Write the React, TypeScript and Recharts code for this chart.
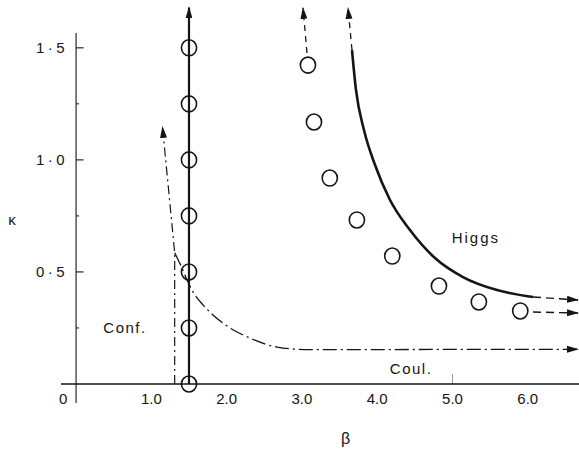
import React from 'react';
import { ComposedChart, Line, Scatter, XAxis, YAxis, ReferenceLine, ReferenceDot } from 'recharts';

// ---- axis ticks ----
const betaTicks = [0, 1, 2, 3, 4, 5, 6];
const betaTickLabels = ['0', '1.0', '2.0', '3.0', '4.0', '5.0', '6.0'];
const kappaTicks = [0.5, 1.0, 1.5];
const kappaTickLabels = ['0·5', '1·0', '1·5'];
const kappaMinorTicks = [0.25, 0.75, 1.25];

// ---- vertical transition line (beta = 1.5) with measured points ----
const verticalBeta = 1.5;
const verticalKappas = [0, 0.25, 0.5, 0.75, 1.0, 1.25, 1.5];
const verticalTopKappa = 1.68;

// ---- open circles of the Higgs-side transition ----
const circleBeta = [3.08, 3.16, 3.37, 3.73, 4.2, 4.82, 5.35, 5.9];
const circleKappa = [1.423, 1.169, 0.919, 0.732, 0.571, 0.437, 0.366, 0.326];
const circleUpBeta = [3.067, 3.014];
const circleUpKappa = [1.477, 1.678];
const circleRightBeta = [6.069, 6.667];
const circleRightKappa = [0.321, 0.317];

// ---- Higgs solid curve ----
const higgsBeta = [3.665, 3.718, 3.824, 3.971, 4.17, 4.435, 4.767, 5.139, 5.591, 6.069];
const higgsKappa = [1.49, 1.312, 1.133, 0.977, 0.821, 0.687, 0.562, 0.477, 0.419, 0.388];
const higgsUpBeta = [3.665, 3.612];
const higgsUpKappa = [1.49, 1.678];
const higgsRightBeta = [6.069, 6.667];
const higgsRightKappa = [0.388, 0.375];

// ---- confinement / Coulomb (dash-dot) ----
const confCoulBeta = [1.31, 1.394, 1.474, 1.54, 1.686, 1.819, 2.045, 2.31, 2.669, 3.107, 4.5, 6.667];
const confCoulKappa = [0.585, 0.527, 0.464, 0.419, 0.353, 0.308, 0.25, 0.205, 0.165, 0.153, 0.154, 0.155];
const confHiggsBeta = [1.31, 1.31, 1.148];
const confHiggsKappa = [0, 0.585, 1.147];

const zip = (bs: number[], ks: number[]) => bs.map((b, i) => ({ b, k: ks[i] }));

const verticalCircles = verticalKappas.map((k) => ({ b: verticalBeta, k }));
const verticalLine = [
  { b: verticalBeta, k: 0 },
  { b: verticalBeta, k: verticalTopKappa },
];
const circles = zip(circleBeta, circleKappa);
const circleUp = zip(circleUpBeta, circleUpKappa);
const circleRight = zip(circleRightBeta, circleRightKappa);
const higgs = zip(higgsBeta, higgsKappa);
const higgsUp = zip(higgsUpBeta, higgsUpKappa);
const higgsRight = zip(higgsRightBeta, higgsRightKappa);
const confCoul = zip(confCoulBeta, confCoulKappa);
const confHiggs = zip(confHiggsBeta, confHiggsKappa);

const INK = '#151515';
const FONT = 'Liberation Sans, Arial, sans-serif';

const XTick = (props: any) => {
  const { x, y, payload } = props;
  const idx = betaTicks.indexOf(payload.value);
  const label = betaTickLabels[idx] ?? String(payload.value);
  const shift = payload.value === 0 ? -13 : 0;
  return (
    <text
      x={x + shift}
      y={y + 20}
      textAnchor="middle"
      fill={INK}
      fontSize={15}
      fontFamily={FONT}
    >
      {label}
    </text>
  );
};

const YTick = (props: any) => {
  const { x, y, payload } = props;
  const idx = kappaTicks.indexOf(payload.value);
  const label = kappaTickLabels[idx] ?? String(payload.value);
  return (
    <text
      x={x - 9}
      y={y + 5}
      textAnchor="middle"
      fill={INK}
      fontSize={15}
      fontFamily={FONT}
      letterSpacing={3.5}
    >
      {label}
    </text>
  );
};

const OpenCircle = (props: any) => {
  const { cx, cy } = props;
  return <ellipse cx={cx} cy={cy} rx={7.6} ry={8} fill="none" stroke={INK} strokeWidth={1.6} />;
};

const textLabel = (value: string, size = 15, spacing = 1.5) => ({
  value,
  position: 'center' as const,
  fill: INK,
  fontSize: size,
  fontFamily: FONT,
  letterSpacing: spacing,
});

export default function App() {
  return (
    <div style={{ position: 'absolute', left: 0, top: 0, width: 579, height: 451, background: '#fff' }}>
      <svg width={0} height={0} style={{ position: 'absolute' }}>
        <defs>
          <marker
            id="arrowHead"
            viewBox="0 0 12 7"
            refX={11}
            refY={3.5}
            markerWidth={12}
            markerHeight={7}
            markerUnits="userSpaceOnUse"
            orient="auto"
          >
            <path d="M0,0 L12,3.5 L0,7 z" fill={INK} />
          </marker>
        </defs>
      </svg>
      <ComposedChart width={579} height={451} margin={{ top: 3, right: 0, bottom: 0, left: 0 }}>
        <XAxis
          dataKey="b"
          type="number"
          domain={[-0.2, 6.68]}
          ticks={betaTicks}
          interval={0}
          height={67}
          axisLine={{ stroke: INK, strokeWidth: 1.3 }}
          tickLine={false}
          tickSize={0}
          tickMargin={0}
          tick={<XTick />}
        />
        <YAxis
          dataKey="k"
          type="number"
          domain={[0, 1.7]}
          ticks={kappaTicks}
          interval={0}
          width={61}
          axisLine={false}
          tickLine={false}
          tickSize={0}
          tickMargin={0}
          tick={<YTick />}
        />

        {/* vertical axis line at beta = 0 */}
        <ReferenceLine
          segment={[{ x: 0, y: -0.085 }, { x: 0, y: 1.566 }]}
          stroke={INK}
          strokeWidth={1.1}
          ifOverflow="visible"
        />
        {kappaTicks.map((k) => (
          <ReferenceLine
            key={'maj' + k}
            segment={[{ x: 0, y: k }, { x: 0.1, y: k }]}
            stroke={INK}
            strokeWidth={1.1}
            ifOverflow="visible"
          />
        ))}
        {kappaMinorTicks.map((k) => (
          <ReferenceLine
            key={'min' + k}
            segment={[{ x: 0, y: k }, { x: 0.04, y: k }]}
            stroke={INK}
            strokeWidth={1}
            ifOverflow="visible"
          />
        ))}
        <ReferenceLine
          segment={[{ x: 5, y: 0 }, { x: 5, y: 0.045 }]}
          stroke="#999"
          strokeWidth={1}
          ifOverflow="visible"
        />

        {/* confinement-Higgs boundary (dash-dot, with arrow) */}
        <Line
          data={confHiggs}
          dataKey="k"
          type="linear"
          stroke={INK}
          strokeWidth={1.2}
          strokeDasharray="9 4 2 4"
          dot={false}
          activeDot={false}
          isAnimationActive={false}
          markerEnd="url(#arrowHead)"
        />
        {/* confinement-Coulomb boundary (dash-dot) */}
        <Line
          data={confCoul}
          dataKey="k"
          type="monotone"
          stroke={INK}
          strokeWidth={1.3}
          strokeDasharray="14 4 2 4"
          dot={false}
          activeDot={false}
          isAnimationActive={false}
          markerEnd="url(#arrowHead)"
        />

        {/* vertical line at beta = 1.5 */}
        <Line
          data={verticalLine}
          dataKey="k"
          type="linear"
          stroke={INK}
          strokeWidth={2.2}
          dot={false}
          activeDot={false}
          isAnimationActive={false}
          markerEnd="url(#arrowHead)"
        />
        <Scatter data={verticalCircles} dataKey="k" shape={OpenCircle} isAnimationActive={false} />

        {/* Higgs curve */}
        <Line
          data={higgs}
          dataKey="k"
          type="monotone"
          stroke={INK}
          strokeWidth={2.6}
          dot={false}
          activeDot={false}
          isAnimationActive={false}
        />
        <Line
          data={higgsUp}
          dataKey="k"
          type="linear"
          stroke={INK}
          strokeWidth={1.3}
          strokeDasharray="6 5"
          dot={false}
          activeDot={false}
          isAnimationActive={false}
          markerEnd="url(#arrowHead)"
        />
        <Line
          data={higgsRight}
          dataKey="k"
          type="linear"
          stroke={INK}
          strokeWidth={1.4}
          strokeDasharray="8 5"
          dot={false}
          activeDot={false}
          isAnimationActive={false}
          markerEnd="url(#arrowHead)"
        />

        {/* open circles */}
        <Scatter data={circles} dataKey="k" shape={OpenCircle} isAnimationActive={false} />
        <Line
          data={circleUp}
          dataKey="k"
          type="linear"
          stroke={INK}
          strokeWidth={1.3}
          strokeDasharray="6 5"
          dot={false}
          activeDot={false}
          isAnimationActive={false}
          markerEnd="url(#arrowHead)"
        />
        <Line
          data={circleRight}
          dataKey="k"
          type="linear"
          stroke={INK}
          strokeWidth={1.4}
          strokeDasharray="8 5"
          dot={false}
          activeDot={false}
          isAnimationActive={false}
          markerEnd="url(#arrowHead)"
        />

        {/* region labels and axis titles */}
        <ReferenceDot x={0.65} y={0.25} r={0} fill="none" stroke="none" ifOverflow="visible" label={textLabel('Conf.')} />
        <ReferenceDot x={4.45} y={0.067} r={0} fill="none" stroke="none" ifOverflow="visible" label={textLabel('Coul.')} />
        <ReferenceDot x={5.31} y={0.651} r={0} fill="none" stroke="none" ifOverflow="visible" label={textLabel('Higgs', 15, 2)} />
        <ReferenceDot x={-0.85} y={0.732} r={0} fill="none" stroke="none" ifOverflow="visible" label={textLabel('κ', 15, 0)} />
        <ReferenceDot x={3.58} y={-0.241} r={0} fill="none" stroke="none" ifOverflow="visible" label={textLabel('β', 16, 0)} />
      </ComposedChart>
    </div>
  );
}
